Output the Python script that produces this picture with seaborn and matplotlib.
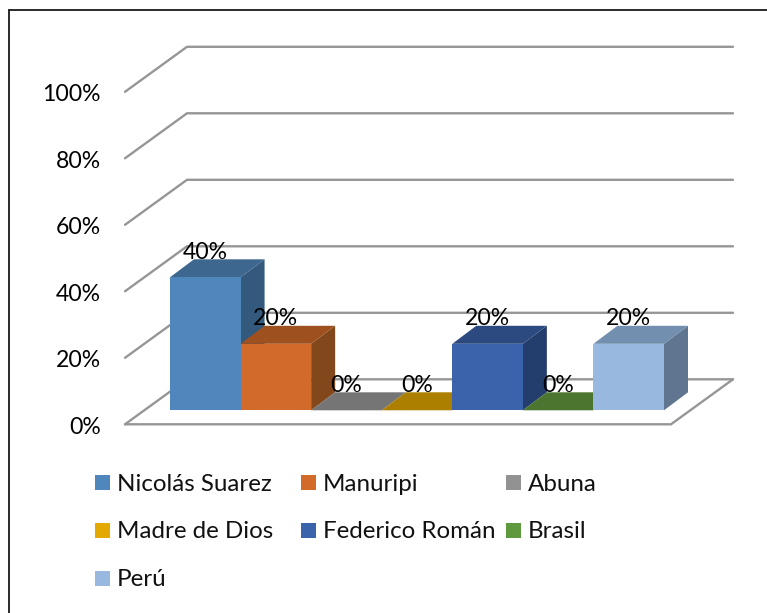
import matplotlib
matplotlib.use("Agg")
import matplotlib.pyplot as plt
import seaborn as sns
import pandas as pd
from matplotlib.patches import Polygon, Rectangle
from matplotlib.transforms import ScaledTranslation, Affine2D

categories = ["Nicolás Suarez", "Manuripi", "Abuna", "Madre de Dios", "Federico Román", "Brasil", "Perú"]
values = [40, 20, 0, 0, 20, 0, 20]
tick_values = [0, 20, 40, 60, 80, 100]
front_colors = ["#4F87BC", "#D26B29", "#929292", "#E3A900", "#3A63AB", "#5F993D", "#98B8E0"]
top_colors = ["#3E678F", "#9E501E", "#757575", "#AC7F00", "#2C4A80", "#4C752F", "#728FB0"]
side_colors = ["#33597D", "#82471A", "#5C5C5C", "#876400", "#233D6C", "#3A5A24", "#5F7590"]
legend_rows = [[0, 1, 2], [3, 4, 5], [6]]

W, H = 767, 613
sns.set_theme(style="white")
plt.rcParams["font.family"] = ["Lato", "DejaVu Sans"]
FS_NUM = 16.6
FS_LEG = 17.4
fig = plt.figure(figsize=(W / 100, H / 100), dpi=100)
L, R, B, T = 170, 664, 410.3, 77.8
ax = fig.add_axes([L / W, 1 - B / H, (R - L) / W, (B - T) / H])
df = pd.DataFrame({"cat": categories, "val": values})
sns.barplot(data=df, x="cat", y="val", hue="cat", order=categories, hue_order=categories,
            palette=front_colors, width=1, dodge=False, legend=False, saturation=1, ax=ax, linewidth=0)
ax.set_xlim(-0.5, 6.5)
ax.set_ylim(0, 100)
ax.set_xlabel("")
ax.set_ylabel("")
ax.set_xticks([])
ax.patch.set_alpha(0)
sns.despine(ax=ax, left=True, bottom=True)

sx = 7 / (R - L)
sy = 100 / (B - T)
grid_color = "#969696"
gx0, gx1, gx2 = -0.5 - 45 * sx, -0.5 + 17 * sx, 6.5 + 69 * sx
gy_front, gy_back = -14 * sy, 31 * sy
for v in tick_values:
    ax.plot([gx0, gx1, gx2], [v + gy_front, v + gy_back, v + gy_back], color=grid_color,
            lw=1.7, clip_on=False, zorder=1, solid_joinstyle="miter")
ax.plot([gx0, 6.5 + 7 * sx, gx2], [gy_front, gy_front, gy_back], color=grid_color,
        lw=1.7, clip_on=False, zorder=1, solid_joinstyle="miter")

dx, dy = 24 * sx, 18 * sy
bars = sorted(ax.patches, key=lambda p: p.get_x())
for i, p in enumerate(bars):
    x0, x1, h = p.get_x(), p.get_x() + p.get_width(), p.get_height()
    z = 3 + i
    p.set_zorder(z + 0.5)
    p.set_clip_on(False)
    ax.add_patch(Polygon([(x0, h), (x0 + dx, h + dy), (x1 + dx, h + dy), (x1, h)],
                         facecolor=top_colors[i], edgecolor="none", zorder=z + 0.2, clip_on=False))
    if h > 0:
        ax.add_patch(Polygon([(x1, 0), (x1 + dx, dy), (x1 + dx, h + dy), (x1, h)],
                             facecolor=side_colors[i], edgecolor="none", zorder=z + 0.1, clip_on=False))
    ax.annotate(f"{values[i]}%", (x0 + 0.5, h), xytext=(0, 25 * 0.72), textcoords="offset points",
                ha="center", va="center", fontsize=FS_NUM, color="black", zorder=30, annotation_clip=False)

ax.set_yticks(tick_values)
ax.set_yticklabels([f"{v}%" for v in tick_values], fontsize=FS_NUM, color="black")
ax.tick_params(axis="y", length=0, pad=(L - 101) * 0.72)
shift = ScaledTranslation(0, -15 / 100, fig.dpi_scale_trans)
for lab in ax.get_yticklabels():
    lab.set_transform(lab.get_transform() + shift)

px = Affine2D().scale(1 / W, -1 / H).translate(0, 1) + fig.transFigure
swatch_x = [95, 301, 506]
text_x = [117, 323, 528]
row_y = [482.5, 530, 578]
for r, row in enumerate(legend_rows):
    for c, idx in enumerate(row):
        fig.add_artist(Rectangle((swatch_x[c], row_y[r] - 7.5), 15, 15, transform=px,
                                 facecolor=front_colors[idx], edgecolor="none"))
        fig.text(text_x[c], row_y[r], categories[idx], transform=px, ha="left", va="center_baseline",
                 fontsize=FS_LEG, color="#111111")

for xs, ys in [([9, 9], [H, 10]), ([9, W], [10, 10])]:
    fig.add_artist(plt.Line2D(xs, ys, transform=px, color="#1a1a1a", lw=1.3))

fig.savefig("out.png", dpi=100, facecolor="white")
